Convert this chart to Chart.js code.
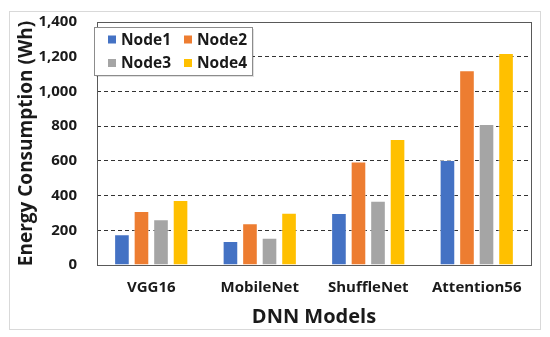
<!DOCTYPE html>
<html><head><meta charset="utf-8">
<script src="https://cdn.jsdelivr.net/npm/chart.js@4"></script>
<style>html,body{margin:0;padding:0;background:#fff}#wrap{width:550px;height:337px}</style>
</head><body><div id="wrap"><canvas id="c" width="550" height="337"></canvas></div>
<script>
const categories = ["VGG16", "MobileNet", "ShuffleNet", "Attention56"];
const node1 = [177, 138, 300, 605];
const node2 = [311, 240, 597, 1122];
const node3 = [263, 157, 370, 812];
const node4 = [374, 301, 726, 1221];
const seriesNames = ["Node1", "Node2", "Node3", "Node4"];
const colors = ["#4472C4", "#ED7D31", "#A5A5A5", "#FFC000"];
const yTicks = [0, 200, 400, 600, 800, 1000, 1200, 1400];

const FONT = "'Open Sans', sans-serif";

const framePlugin = {
  id: 'frame',
  beforeDraw(chart) {
    const ctx = chart.ctx;
    ctx.save();
    ctx.fillStyle = '#fff';
    ctx.fillRect(0, 0, chart.width, chart.height);
    ctx.strokeStyle = '#d9d9d9';
    ctx.lineWidth = 1;
    ctx.strokeRect(9.5, 11.5, 531, 318);
    ctx.restore();
  },
  afterDraw(chart) {
    const ctx = chart.ctx;
    const a = chart.chartArea;
    ctx.save();
    ctx.strokeStyle = '#595959';
    ctx.lineWidth = 1;
    ctx.strokeRect(Math.round(a.left) + 0.5, Math.round(a.top) + 0.5, Math.round(a.right - a.left), Math.round(a.bottom - a.top));
    // legend box
    const lx = 94.5, ly = 27.5, lw = 158, lh = 48;
    ctx.fillStyle = 'rgba(0,0,0,0.12)';
    ctx.fillRect(lx + 1.5, ly + 1.5, lw, lh);
    ctx.fillStyle = '#fff';
    ctx.fillRect(lx, ly, lw, lh);
    ctx.strokeStyle = '#8c8c8c';
    ctx.strokeRect(lx, ly, lw, lh);
    ctx.font = "bold 15.5px " + FONT;
    ctx.textBaseline = 'middle';
    ctx.textAlign = 'left';
    const pos = [[108, 39.5], [184, 39.5], [108, 63], [184, 63]];
    for (let i = 0; i < 4; i++) {
      const [x, y] = pos[i];
      ctx.fillStyle = colors[i];
      ctx.fillRect(x, y - 4, 8, 8);
      ctx.fillStyle = '#1a1a1a';
      ctx.fillText(seriesNames[i], x + 13, y + 1);
    }
    ctx.restore();
  }
};

const datasets = [node1, node2, node3, node4].map((d, i) => ({
  label: seriesNames[i],
  data: d,
  backgroundColor: colors[i],
  borderColor: 'rgba(255,255,255,0.6)',
  borderWidth: 1,
  categoryPercentage: 0.72,
  barPercentage: 0.8
}));

new Chart(document.getElementById('c'), {
  type: 'bar',
  data: { labels: categories, datasets },
  options: {
    responsive: false,
    animation: false,
    devicePixelRatio: 1,
    layout: { padding: { left: 15.6, top: 22, right: 19, bottom: 8 } },
    plugins: { legend: { display: false }, tooltip: { enabled: false } },
    scales: {
      x: {
        grid: { display: false, drawTicks: false },
        border: { display: false },
        ticks: { color: '#1a1a1a', font: { family: FONT, weight: 'bold', size: 15 }, padding: 14, maxRotation: 0, minRotation: 0, autoSkip: false },
        title: { display: true, text: 'DNN Models', color: '#1a1a1a', font: { family: FONT, weight: 'bold', size: 20 }, padding: { top: -6, bottom: 0 } }
      },
      y: {
        min: 0, max: 1400,
        afterBuildTicks(scale) { scale.ticks = yTicks.map(v => ({ value: v })); },
        afterFit(scale) { scale.paddingTop = 10; },
        grid: {
          drawTicks: false,
          color: ctx => (ctx.tick && (ctx.tick.value === 0 || ctx.tick.value === 1400)) ? 'rgba(0,0,0,0)' : '#333333',
          lineWidth: 1
        },
        border: { display: false, dash: [4, 3] },
        ticks: {
          color: '#1a1a1a', padding: 20,
          font: { family: FONT, weight: 'bold', size: 15 },
          callback: v => v.toLocaleString('en-US')
        },
        title: { display: true, text: 'Energy Consumption (Wh)', color: '#1a1a1a', font: { family: FONT, weight: 'bold', size: 19 }, padding: { top: 0, bottom: -20 } }
      }
    }
  },
  plugins: [framePlugin]
});
</script>
</body></html>
